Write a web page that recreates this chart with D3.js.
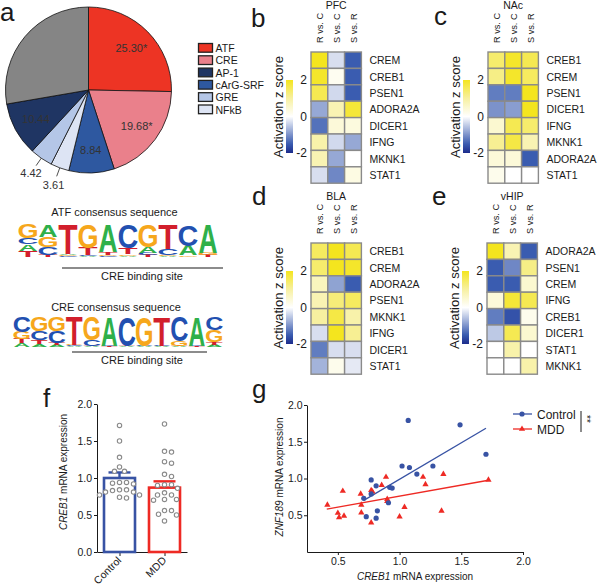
<!DOCTYPE html>
<html>
<head>
<meta charset="utf-8">
<script src="https://cdn.jsdelivr.net/npm/d3@7"></script>
<style>
  body { margin: 0; background: #fff; }
  svg { font-family: "Liberation Sans", Arial, sans-serif; }
</style>
</head>
<body>
<script>
// ---- data ----
// panel a: motif share (%), clockwise from 12 o'clock
var motifNames = ["ATF", "CRE", "cArG-SRF", "NFkB", "GRE", "AP-1", "Other"];
var motifPct = [25.30, 19.68, 8.84, 3.61, 4.42, 10.44, 27.71];
var motifLabels = ["25.30*", "19.68*", "8.84", "3.61", "4.42", "10.44", ""];
var legendNames = ["ATF", "CRE", "AP-1", "cArG-SRF", "GRE", "NFkB"];

// sequence logos: each position, letters bottom -> top with probability
var atfLogo = [
  [["T", .2], ["A", .2], ["C", .18], ["G", .42]],
  [["T", .06], ["C", .25], ["G", .33], ["A", .36]],
  [["C", .03], ["G", .03], ["A", .04], ["T", .9]],
  [["A", .03], ["C", .03], ["T", .22], ["G", .72]],
  [["C", .03], ["G", .04], ["T", .08], ["A", .85]],
  [["A", .04], ["G", .04], ["T", .2], ["C", .72]],
  [["T", .06], ["C", .06], ["A", .2], ["G", .68]],
  [["A", .03], ["G", .04], ["C", .18], ["T", .75]],
  [["G", .05], ["A", .3], ["C", .65]],
  [["T", .06], ["G", .06], ["A", .88]]
];
var creLogo = [
  [["A", .12], ["T", .15], ["G", .23], ["C", .5]],
  [["A", .1], ["T", .14], ["C", .3], ["G", .46]],
  [["A", .07], ["T", .08], ["C", .4], ["G", .45]],
  [["A", .03], ["C", .03], ["G", .02], ["T", .92]],
  [["A", .02], ["T", .03], ["C", .2], ["G", .75]],
  [["T", .02], ["C", .02], ["G", .01], ["A", .95]],
  [["A", .02], ["T", .02], ["G", .01], ["C", .95]],
  [["A", .02], ["C", .02], ["T", .01], ["G", .95]],
  [["A", .02], ["C", .02], ["G", .01], ["T", .95]],
  [["A", .02], ["T", .03], ["G", .15], ["C", .8]],
  [["T", .02], ["C", .02], ["G", .01], ["A", .95]],
  [["A", .08], ["T", .1], ["G", .4], ["C", .42]]
];

// heatmaps (activation z score), columns R vs. C, S vs. C, S vs. R
var contrasts = ["R vs. C", "S vs. C", "S vs. R"];
var pfcGenes = ["CREM", "CREB1", "PSEN1", "ADORA2A", "DICER1", "IFNG", "MKNK1", "STAT1"];
var pfcZ = [[2.0, -0.3, -1.5], [1.9, 0.15, -1.5], [1.6, -0.35, -1.5], [-0.8, 0.8, 1.8],
            [-1.3, 0.4, 0.35], [0.9, -0.35, -0.8], [0.8, -0.8, 0.0], [-0.3, -1.1, 0.3]];
var nacGenes = ["CREB1", "CREM", "PSEN1", "DICER1", "IFNG", "MKNK1", "ADORA2A", "STAT1"];
var nacZ = [[1.4, 1.9, 1.6], [1.2, 1.9, 1.5], [-1.2, -1.2, 2.0], [-1.0, -0.9, 2.0],
            [0.5, 1.6, 1.4], [1.1, 1.7, 0.8], [0.4, 0.4, -1.5], [0.2, 0.0, 0.0]];
var blaGenes = ["CREB1", "CREM", "ADORA2A", "PSEN1", "MKNK1", "IFNG", "DICER1", "STAT1"];
var blaZ = [[1.5, 2.0, 1.6], [1.4, 2.0, 1.9], [0.7, -0.85, -1.5], [0.8, 1.3, 1.5],
            [1.0, 1.7, 0.9], [-0.3, 2.0, 1.1], [-1.2, -0.3, -0.3], [-0.7, 0.2, -0.2]];
var vhipGenes = ["ADORA2A", "PSEN1", "CREM", "IFNG", "CREB1", "DICER1", "STAT1", "MKNK1"];
var vhipZ = [[2.0, 0.8, -1.5], [-1.5, -1.1, 1.2], [-1.5, -1.5, 0.5], [0.4, 1.8, 1.6],
             [-1.2, -1.6, 0.2], [-0.5, 1.6, 0.5], [0.0, 0.9, 0.0], [0.0, 0.0, 0.9]];

// panel f: CREB1 mRNA expression
var groups = ["Control", "MDD"];
var groupMean = [1.0, 0.87];
var groupSem = [0.075, 0.085];
var controlCreb = [1.71, 1.50, 1.28, 1.15, 1.09, 1.09, 0.94, 0.94, 0.93, 0.92, 0.84, 0.83,
                   0.84, 0.81, 0.81, 0.77, 0.77, 0.74, 0.73];
var mddCreb = [1.73, 1.35, 1.36, 1.20, 1.22, 1.05, 1.02, 0.91, 0.91, 0.90, 0.86, 0.80,
               0.77, 0.77, 0.71, 0.71, 0.70, 0.56, 0.56, 0.50, 0.51, 0.42];

// panel g: CREB1 (x) vs ZNF189 (y)
var ctrlX = [1.07, 1.49, 1.02, 1.08, 1.27, 1.14, 0.77, 0.81, 0.92, 0.94, 0.77, 0.71, 0.91, 0.82, 0.73, 0.81, 1.70];
var ctrlY = [1.79, 1.73, 1.17, 1.15, 1.17, 1.06, 0.98, 0.90, 0.88, 0.87, 0.79, 0.73, 0.67, 0.56, 0.48, 0.46, 1.33];
var mddX = [0.415, 0.54, 0.50, 0.51, 0.55, 0.685, 0.69, 0.69, 0.77, 0.77, 0.78, 0.855, 0.89, 0.90, 0.90,
            1.04, 1.00, 1.19, 1.21, 1.355, 1.34, 1.72];
var mddY = [0.64, 0.83, 0.53, 0.47, 0.49, 0.79, 0.64, 0.535, 0.40, 0.84, 0.82, 0.91, 1.02, 0.72, 0.69,
            0.61, 0.48, 1.02, 0.92, 1.06, 0.56, 0.98];
var ctrlFit = { slope: 0.99, intercept: 0.0, from: 0.71, to: 1.70 };
var mddFit = { slope: 0.30, intercept: 0.46, from: 0.41, to: 1.72 };

// ---- drawing ----
var svg = d3.select("body").append("svg").attr("width", 600).attr("height", 584);
var ink = "#1a1a1a";
var blue = "#3853a4", red = "#ee2a24";

// panel letters
[["a", 0, 21], ["b", 251, 27], ["c", 434, 25], ["d", 252, 205], ["e", 432, 205], ["f", 43, 407], ["g", 252, 398]]
  .forEach(function(p) {
    svg.append("text").attr("x", p[1]).attr("y", p[2]).attr("font-size", 26).attr("fill", ink).text(p[0]);
  });

// --- a: pie ---
var motifColor = { "ATF": "#ed3424", "CRE": "#ea808b", "cArG-SRF": "#2e58a0", "NFkB": "#dde4f4",
                   "GRE": "#b4c6e7", "AP-1": "#1f3563", "Other": "#858585" };
var R = 83;
var gPie = svg.append("g").attr("transform", "translate(88.5,90)");
var arcs = d3.pie().sort(null).value(function(d) { return d; })(motifPct);
var arc = d3.arc().innerRadius(0).outerRadius(R);
gPie.selectAll("path").data(arcs).join("path")
  .attr("d", arc)
  .attr("fill", function(d, i) { return motifColor[motifNames[i]]; })
  .attr("stroke", "#111").attr("stroke-width", 0.8);

arcs.forEach(function(d, i) {
  if (!motifLabels[i]) return;
  var mid = (d.startAngle + d.endAngle) / 2;
  var sx = Math.sin(mid), sy = -Math.cos(mid);
  if (motifPct[i] >= 5) {
    gPie.append("text").attr("x", sx * 60).attr("y", sy * 60 + 4)
      .attr("text-anchor", "middle").attr("font-size", 11).attr("fill", "#333").text(motifLabels[i]);
  } else {
    gPie.append("line").attr("x1", sx * R).attr("y1", sy * R).attr("x2", sx * 92).attr("y2", sy * 92)
      .attr("stroke", "#222").attr("stroke-width", 0.8);
    gPie.append("text").attr("x", sx * 101).attr("y", sy * 101 + 4)
      .attr("text-anchor", "middle").attr("font-size", 11).attr("fill", "#333").text(motifLabels[i]);
  }
});

var gLeg = svg.append("g");
legendNames.forEach(function(n, k) {
  var top = 43.5 + k * 12.3;
  gLeg.append("rect").attr("x", 198.5).attr("y", top).attr("width", 14).attr("height", 8.7)
    .attr("fill", motifColor[n]).attr("stroke", "#222").attr("stroke-width", 1.3);
  gLeg.append("text").attr("x", 215.5).attr("y", top + 8.5).attr("font-size", 10.5).attr("fill", ink).text(n);
});

// --- a: sequence logos ---
var letterColor = { A: "#2fb04a", C: "#2250b0", G: "#f6a71c", T: "#d21f2c" };
var inkW = { A: 0.72, C: 0.66, G: 0.70, T: 0.60 };
function drawLogo(stacks, x0, w, yTop, yBot) {
  var ys = d3.scaleLinear().domain([0, 1]).range([yBot, yTop]);
  var xs = d3.scaleBand().domain(d3.range(stacks.length)).range([x0, x0 + w * stacks.length]);
  stacks.forEach(function(st, i) {
    var acc = 0;
    st.forEach(function(e) {
      var yb = ys(acc), yt = ys(acc + e[1]);
      acc += e[1];
      var sxl = xs.bandwidth() * 0.95 / (inkW[e[0]] * 100);
      var syl = (yb - yt) / 69;
      svg.append("text")
        .attr("transform", "translate(" + (xs(i) + xs.bandwidth() / 2) + "," + yb + ") scale(" + sxl + "," + syl + ")")
        .attr("text-anchor", "middle").attr("font-size", 100).attr("font-weight", "bold")
        .attr("fill", letterColor[e[0]]).text(e[0]);
    });
  });
}
svg.append("text").attr("x", 114.5).attr("y", 216).attr("text-anchor", "middle").attr("font-size", 11)
  .attr("fill", ink).text("ATF consensus sequence");
drawLogo(atfLogo, 18, 20, 225, 257);
svg.append("line").attr("x1", 62).attr("x2", 223).attr("y1", 268).attr("y2", 268).attr("stroke", ink).attr("stroke-width", 1.2);
svg.append("text").attr("x", 142).attr("y", 280).attr("text-anchor", "middle").attr("font-size", 11)
  .attr("fill", ink).text("CRE binding site");

svg.append("text").attr("x", 116).attr("y", 311).attr("text-anchor", "middle").attr("font-size", 11)
  .attr("fill", ink).text("CRE consensus sequence");
drawLogo(creLogo, 13, 17.5, 317, 347);
svg.append("line").attr("x1", 72).attr("x2", 207).attr("y1", 352).attr("y2", 352).attr("stroke", ink).attr("stroke-width", 1.2);
svg.append("text").attr("x", 142).attr("y", 364).attr("text-anchor", "middle").attr("font-size", 11)
  .attr("fill", ink).text("CRE binding site");

// --- b-e: heatmaps ---
var zColor = d3.scaleLinear().domain([-2, -1.5, 0, 1, 2])
  .range(["#1c2c8c", "#3a5cb0", "#ffffff", "#f7f0a0", "#f4e51e"]);
var defs = svg.append("defs");
var grad = defs.append("linearGradient").attr("id", "zgrad").attr("x1", 0).attr("x2", 0).attr("y1", 1).attr("y2", 0);
d3.range(-2, 2.01, 0.25).forEach(function(v) {
  grad.append("stop").attr("offset", (v + 2) / 4).attr("stop-color", zColor(v));
});

function heatmap(title, genes, vals, left, top) {
  var g = svg.append("g");
  var x = d3.scaleBand().domain(contrasts).range([left, left + 3 * 16.8]);
  var y = d3.scaleBand().domain(genes).range([top, top + genes.length * 16.4]);
  genes.forEach(function(gene, r) {
    contrasts.forEach(function(c, k) {
      g.append("rect").attr("x", x(c)).attr("y", y(gene)).attr("width", x.bandwidth()).attr("height", y.bandwidth())
        .attr("fill", zColor(vals[r][k])).attr("stroke", "#8a8a8a").attr("stroke-width", 1.4);
    });
    g.append("text").attr("x", left + 3 * 16.8 + 8).attr("y", y(gene) + y.bandwidth() / 2 + 4)
      .attr("font-size", 10.5).attr("fill", ink).text(gene);
  });
  contrasts.forEach(function(c) {
    g.append("text").attr("transform", "translate(" + (x(c) + x.bandwidth() / 2 + 3.5) + "," + (top - 9) + ") rotate(-90)")
      .attr("font-size", 9.2).attr("fill", ink).text(c);
  });
  g.append("text").attr("x", left + 1.5 * 16.8).attr("y", top - 43).attr("text-anchor", "middle")
    .attr("font-size", 10.5).attr("fill", ink).text(title);
  // colour bar
  var zs = d3.scaleLinear().domain([-2, 2]).range([top + 101, top + 28]);
  g.append("rect").attr("x", left - 25).attr("y", zs(2)).attr("width", 7).attr("height", zs(-2) - zs(2))
    .attr("fill", "url(#zgrad)");
  [2, 0, -2].forEach(function(v) {
    g.append("text").attr("x", left - 4).attr("y", zs(v) + 4).attr("text-anchor", "end")
      .attr("font-size", 12).attr("fill", ink).text(v);
  });
  g.append("text").attr("transform", "translate(" + (left - 28) + "," + (top + 55) + ") rotate(-90)")
    .attr("text-anchor", "middle").attr("font-size", 13).attr("fill", ink).text("Activation z score");
}
heatmap("PFC", pfcGenes, pfcZ, 311, 52);
heatmap("NAc", nacGenes, nacZ, 488, 52);
heatmap("BLA", blaGenes, blaZ, 311, 243);
heatmap("vHIP", vhipGenes, vhipZ, 487, 243);

function styleAxis(sel) {
  sel.attr("font-family", null).attr("font-size", 10.5);
  sel.selectAll("path, line").attr("stroke", ink);
  sel.selectAll("text").attr("fill", ink);
}

// --- f: bar + dots ---
var fy = d3.scaleLinear().domain([0, 2]).range([552, 404]);
var fx = d3.scalePoint().domain(groups).range([97, 187]).padding(0.5);
var gF = svg.append("g");
gF.append("g").attr("transform", "translate(97,0)")
  .call(d3.axisLeft(fy).tickValues([0, 0.5, 1, 1.5, 2]).tickFormat(d3.format(".1f")).tickSize(3).tickPadding(2).tickSizeOuter(0))
  .call(styleAxis);
var fxAxis = gF.append("g").attr("transform", "translate(0,552)")
  .call(d3.axisBottom(fx).tickSize(4).tickSizeOuter(0)).call(styleAxis);
fxAxis.selectAll("text").attr("text-anchor", "end").attr("dy", null).attr("y", null)
  .attr("transform", "translate(2,9) rotate(-45)").attr("font-size", 10.5);

var groupColor = [blue, red];
groups.forEach(function(gr, i) {
  var cxp = fx(gr);
  gF.append("rect").attr("x", cxp - 15.5).attr("y", fy(groupMean[i])).attr("width", 31)
    .attr("height", fy(0) - fy(groupMean[i])).attr("fill", "none")
    .attr("stroke", groupColor[i]).attr("stroke-width", 2.6);
  gF.append("line").attr("x1", cxp).attr("x2", cxp).attr("y1", fy(groupMean[i])).attr("y2", fy(groupMean[i] + groupSem[i]))
    .attr("stroke", groupColor[i]).attr("stroke-width", 2.4);
  gF.append("line").attr("x1", cxp - 11).attr("x2", cxp + 11)
    .attr("y1", fy(groupMean[i] + groupSem[i])).attr("y2", fy(groupMean[i] + groupSem[i]))
    .attr("stroke", groupColor[i]).attr("stroke-width", 2.4);
});

function swarm(vals, cxp, r) {
  var placed = [];
  var order = vals.map(function(v, i) { return i; }).sort(function(a, b) { return vals[b] - vals[a]; });
  order.forEach(function(i) {
    var py = fy(vals[i]);
    for (var k = 0; k < 80; k++) {
      var px = cxp + (k % 2 ? 1 : -1) * Math.ceil(k / 2);
      var ok = placed.every(function(p) { return Math.hypot(p.x - px, p.y - py) >= 2 * r + 2; });
      if (ok) { placed.push({ x: px, y: py }); break; }
    }
  });
  return placed;
}
[controlCreb, mddCreb].forEach(function(vals, i) {
  gF.selectAll(null).data(swarm(vals, fx(groups[i]), 2.2)).join("circle")
    .attr("cx", function(d) { return d.x; }).attr("cy", function(d) { return d.y; }).attr("r", 2.2)
    .attr("fill", "#fff").attr("stroke", "#8a8a8a").attr("stroke-width", 1.1);
});
var fTitle = gF.append("text").attr("transform", "translate(67,472) rotate(-90)").attr("text-anchor", "middle")
  .attr("font-size", 10).attr("fill", ink);
fTitle.append("tspan").attr("font-style", "italic").text("CREB1");
fTitle.append("tspan").text(" mRNA expression");

// --- g: scatter ---
var gx = d3.scaleLinear().domain([0.25, 2]).range([307, 523]);
var gy = d3.scaleLinear().domain([0, 2]).range([552, 405]);
var gG = svg.append("g");
gG.append("g").attr("transform", "translate(307,0)")
  .call(d3.axisLeft(gy).tickValues([0.5, 1, 1.5, 2]).tickFormat(d3.format(".1f")).tickSize(3).tickPadding(1.5).tickSizeOuter(0))
  .call(styleAxis);
gG.append("g").attr("transform", "translate(0,552)")
  .call(d3.axisBottom(gx).tickValues([0.5, 1, 1.5, 2]).tickFormat(d3.format(".1f")).tickSize(3).tickPadding(2.5).tickSizeOuter(0))
  .call(styleAxis);

[[ctrlFit, blue], [mddFit, red]].forEach(function(f) {
  var p = f[0];
  gG.append("line").attr("x1", gx(p.from)).attr("y1", gy(p.intercept + p.slope * p.from))
    .attr("x2", gx(p.to)).attr("y2", gy(p.intercept + p.slope * p.to))
    .attr("stroke", f[1]).attr("stroke-width", 1.3);
});
var tri = d3.symbol(d3.symbolTriangle, 17);
gG.selectAll(null).data(d3.range(mddX.length)).join("path")
  .attr("d", tri).attr("fill", red)
  .attr("transform", function(i) { return "translate(" + gx(mddX[i]) + "," + gy(mddY[i]) + ")"; });
gG.selectAll(null).data(d3.range(ctrlX.length)).join("circle")
  .attr("cx", function(i) { return gx(ctrlX[i]); }).attr("cy", function(i) { return gy(ctrlY[i]); })
  .attr("r", 2.6).attr("fill", blue);

var gyTitle = gG.append("text").attr("transform", "translate(283,477) rotate(-90)").attr("text-anchor", "middle")
  .attr("font-size", 10).attr("fill", ink);
gyTitle.append("tspan").attr("font-style", "italic").text("ZNF189");
gyTitle.append("tspan").text(" mRNA expression");
var gxTitle = gG.append("text").attr("x", 415).attr("y", 580).attr("text-anchor", "middle")
  .attr("font-size", 10).attr("fill", ink);
gxTitle.append("tspan").attr("font-style", "italic").text("CREB1");
gxTitle.append("tspan").text(" mRNA expression");

// legend
[["Control", blue, 414], ["MDD", red, 429]].forEach(function(l, k) {
  gG.append("line").attr("x1", 513).attr("x2", 532).attr("y1", l[2]).attr("y2", l[2])
    .attr("stroke", l[1]).attr("stroke-width", 1.3);
  if (k === 0) gG.append("circle").attr("cx", 522).attr("cy", l[2]).attr("r", 2.6).attr("fill", l[1]);
  else gG.append("path").attr("d", tri).attr("fill", l[1]).attr("transform", "translate(522," + l[2] + ")");
  gG.append("text").attr("x", 537).attr("y", l[2] + 4.5).attr("font-size", 12).attr("fill", ink).text(l[0]);
});
gG.append("line").attr("x1", 581).attr("x2", 581).attr("y1", 411).attr("y2", 432).attr("stroke", ink).attr("stroke-width", 1);
gG.append("text").attr("transform", "translate(583,415) rotate(90)").attr("font-size", 10).attr("fill", ink).text("**");
</script>
</body>
</html>
